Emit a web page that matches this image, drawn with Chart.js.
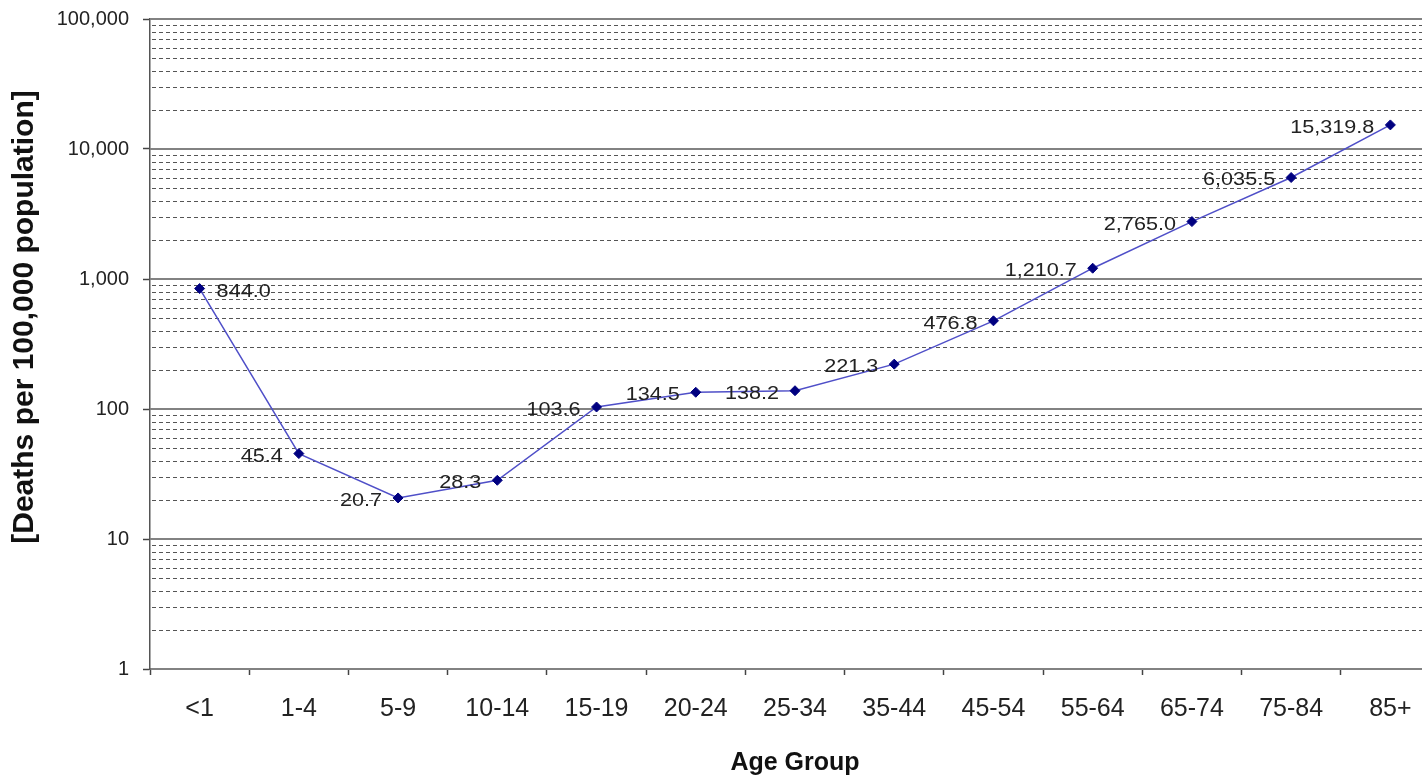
<!DOCTYPE html>
<html>
<head>
<meta charset="utf-8">
<title>Death Rates by Age Group</title>
<script src="https://cdn.jsdelivr.net/npm/chart.js@4/dist/chart.umd.min.js"></script>
<style>
  html, body { margin: 0; padding: 0; background: #ffffff; overflow: hidden; }
  #wrap { width: 1446px; height: 778px; }
</style>
</head>
<body>
<div id="wrap"><canvas id="chart" width="1446" height="778"></canvas></div>
<script>
// Age groups on the horizontal axis
const ageGroups = ['<1', '1-4', '5-9', '10-14', '15-19', '20-24', '25-34', '35-44', '45-54', '55-64', '65-74', '75-84', '85+'];
// Deaths per 100,000 population for each age group
const deathRates = [844.0, 45.4, 20.7, 28.3, 103.6, 134.5, 138.2, 221.3, 476.8, 1210.7, 2765.0, 6035.5, 15319.8];
// Labelled decades on the logarithmic axis
const yDecades = [1, 10, 100, 1000, 10000, 100000];
const yTitle = '[Deaths per 100,000 population]';

const fmtRate = v => v.toLocaleString('en-US', { minimumFractionDigits: 1, maximumFractionDigits: 1 });
const isDecade = v => yDecades.includes(v);

// Horizontal grid: solid lines at decades, dashed at 2..9 inside each decade
const logGrid = {
  id: 'logGrid',
  beforeDatasetsDraw(chart) {
    const { ctx, chartArea, scales: { y } } = chart;
    ctx.save();
    for (let d = 0; d < yDecades.length - 1; d++) {
      for (let m = 2; m <= 9; m++) {
        const py = Math.round(y.getPixelForValue(yDecades[d] * m)) + 0.5;
        ctx.beginPath();
        ctx.setLineDash([4, 3]);
        ctx.strokeStyle = '#555555';
        ctx.lineWidth = 1;
        ctx.moveTo(chartArea.left + 2, py);
        ctx.lineTo(chartArea.right, py);
        ctx.stroke();
      }
    }
    ctx.setLineDash([]);
    yDecades.forEach(v => {
      if (v === yDecades[0]) return;
      const py = Math.round(y.getPixelForValue(v));
      ctx.beginPath();
      ctx.strokeStyle = '#828282';
      ctx.lineWidth = 2;
      ctx.moveTo(chartArea.left, py);
      ctx.lineTo(chartArea.right, py);
      ctx.stroke();
    });
    ctx.restore();
  }
};

// Value labels beside each point, set in a slightly widened face
const pointLabels = {
  id: 'pointLabels',
  afterDatasetsDraw(chart) {
    const { ctx } = chart;
    const meta = chart.getDatasetMeta(0);
    const values = chart.data.datasets[0].data;
    const sx = 1.2;
    ctx.save();
    ctx.font = '18px "Liberation Sans", Arial, sans-serif';
    ctx.fillStyle = '#222222';
    ctx.textBaseline = 'middle';
    meta.data.forEach((pt, i) => {
      const text = fmtRate(values[i]);
      ctx.save();
      if (i === 0) {
        ctx.textAlign = 'left';
        ctx.translate(pt.x + 17, pt.y + 3);
      } else {
        ctx.textAlign = 'right';
        ctx.translate(pt.x - 16, pt.y + 3);
      }
      ctx.scale(sx, 1);
      ctx.fillText(text, 0, 0);
      ctx.restore();
    });
    ctx.restore();
  }
};

// Vertical axis title, rotated, in the left margin
const yAxisTitle = {
  id: 'yAxisTitle',
  afterDraw(chart) {
    const { ctx } = chart;
    ctx.save();
    ctx.translate(25, 317);
    ctx.rotate(-Math.PI / 2);
    ctx.font = 'bold 30px "Liberation Sans", Arial, sans-serif';
    ctx.fillStyle = '#111111';
    ctx.textAlign = 'center';
    ctx.textBaseline = 'middle';
    ctx.fillText(yTitle, 0, 0);
    ctx.restore();
  }
};

new Chart(document.getElementById('chart'), {
  type: 'line',
  data: {
    labels: ageGroups,
    datasets: [{
      data: deathRates,
      borderColor: '#4f4fc8',
      borderWidth: 1.5,
      pointStyle: 'rectRot',
      pointRadius: 5,
      pointBackgroundColor: '#000080',
      pointBorderColor: '#000080',
      pointBorderWidth: 1,
      tension: 0,
      fill: false
    }]
  },
  options: {
    responsive: false,
    animation: false,
    devicePixelRatio: 1,
    layout: { padding: { top: 19, right: 0, bottom: 0, left: 0 } },
    plugins: {
      legend: { display: false },
      tooltip: { enabled: false }
    },
    scales: {
      x: {
        type: 'category',
        offset: true,
        afterFit(scale) { scale.height = 109; },
        grid: {
          offset: true,
          drawOnChartArea: false,
          drawTicks: true,
          tickLength: 6,
          tickColor: '#444444',
          tickWidth: 1.5
        },
        border: { display: true, color: '#828282', width: 2 },
        ticks: {
          color: '#222222',
          font: { family: '"Liberation Sans", Arial, sans-serif', size: 25 },
          padding: 19,
          maxRotation: 0,
          autoSkip: false
        },
        title: {
          display: true,
          text: 'Age Group',
          color: '#111111',
          font: { family: '"Liberation Sans", Arial, sans-serif', size: 25, weight: 'bold' },
          padding: { top: 0, bottom: 0 }
        }
      },
      y: {
        type: 'logarithmic',
        min: 1,
        max: 100000,
        afterFit(scale) {
          scale.width = 150;
          scale.paddingTop = 0;
          scale.paddingBottom = 0;
        },
        grid: {
          drawOnChartArea: false,
          drawTicks: true,
          tickLength: 7,
          tickWidth: 1.5,
          tickColor: ctx => (ctx.tick && isDecade(ctx.tick.value)) ? '#444444' : 'rgba(0,0,0,0)'
        },
        border: { display: true, color: '#555555', width: 1.5 },
        ticks: {
          autoSkip: false,
          color: '#222222',
          font: { family: '"Liberation Sans", Arial, sans-serif', size: 20 },
          padding: 14,
          callback: v => isDecade(v) ? v.toLocaleString('en-US') : ''
        },
        title: { display: false }
      }
    }
  },
  plugins: [logGrid, pointLabels, yAxisTitle]
});
</script>
</body>
</html>
